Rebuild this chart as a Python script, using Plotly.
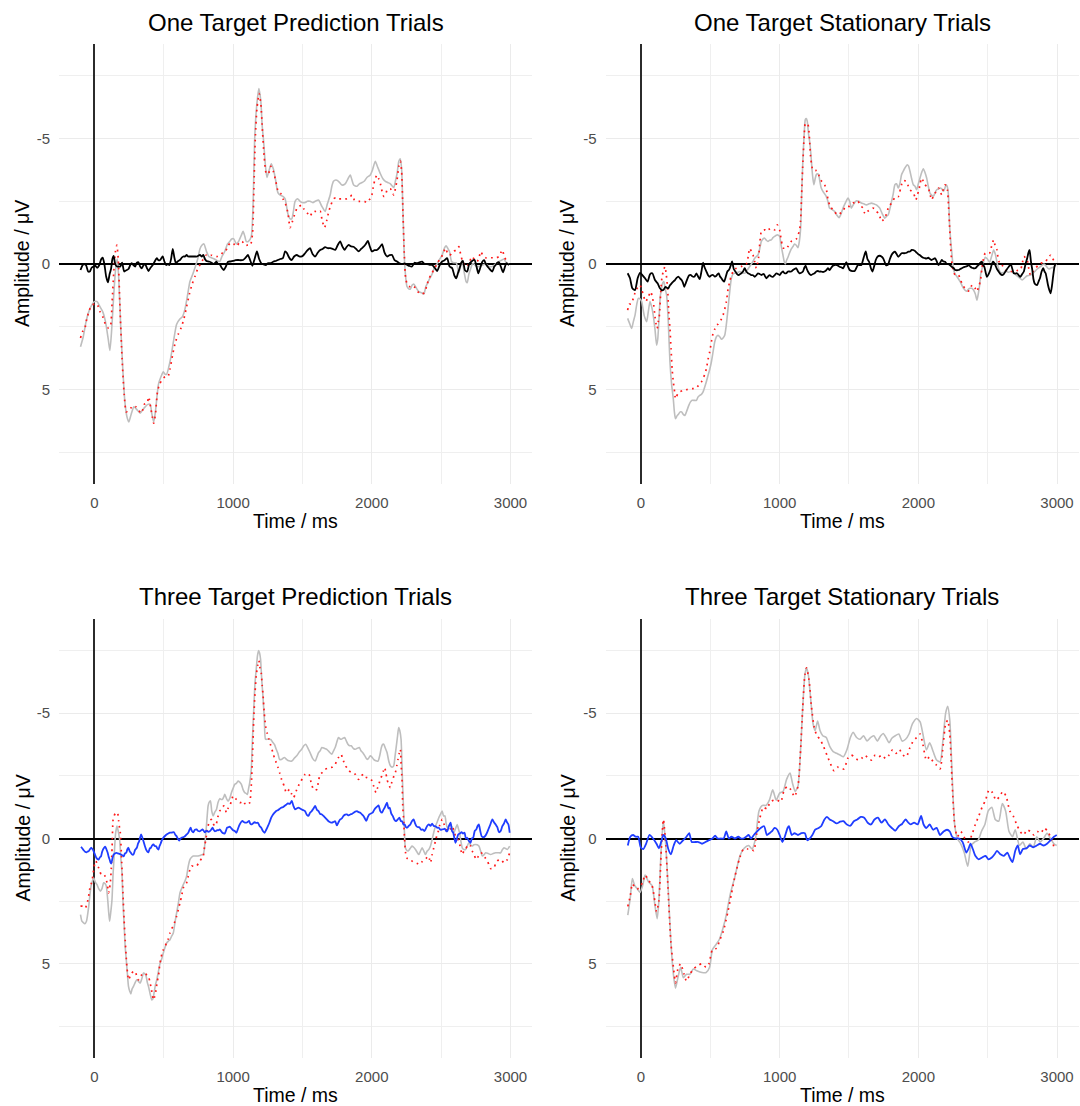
import plotly.graph_objects as go

# ------------------------------------------------------------------
# Data (time in ms, amplitude in µV)
# ------------------------------------------------------------------
one_pred_gray = [(-100,3.3),(-80,2.9),(-60,2.3),(-40,1.9),(-15,1.6),(0,1.5),(20,1.5),(40,1.7),(60,1.9),(80,2.3),(100,3.0),(112,3.45),(125,2.6),(140,1.2),(155,0.1),(165,-0.2),(175,0.5),(190,2.5),(205,4.2),(220,5.5),(235,6.1),(248,6.3),(265,6.0),(285,5.7),(305,5.8),(330,5.95),(350,5.8),(366,5.7),(385,5.6),(402,5.6),(415,6.0),(428,6.3),(440,5.9),(462,4.8),(480,4.5),(497,4.3),(510,4.4),(521,4.4),(545,3.9),(570,3.1),(593,2.4),(615,2.2),(635,2.1),(653,1.8),(670,1.3),(689,0.7),(710,0.4),(725,0.15),(745,-0.2),(761,-0.6),(775,-0.75),(790,-0.8),(808,-0.5),(825,-0.3),(844,-0.25),(865,-0.2),(880,-0.15),(904,-0.1),(920,-0.3),(940,-0.5),(960,-0.8),(976,-0.9),(990,-1.0),(1005,-1.0),(1024,-0.8),(1040,-0.9),(1048,-1.0),(1060,-1.15),(1072,-1.3),(1085,-1.1),(1095,-0.9),(1110,-0.9),(1131,-1.1),(1145,-2.5),(1155,-4.9),(1170,-6.3),(1186,-7.0),(1200,-6.5),(1210,-5.5),(1220,-4.9),(1232,-4.0),(1244,-3.45),(1258,-3.7),(1275,-4.0),(1290,-3.8),(1305,-3.4),(1323,-2.85),(1340,-2.75),(1359,-2.7),(1375,-2.6),(1395,-2.0),(1411,-1.8),(1423,-1.8),(1435,-2.1),(1447,-2.5),(1465,-2.6),(1483,-2.5),(1500,-2.45),(1519,-2.45),(1535,-2.5),(1555,-2.5),(1575,-2.45),(1592,-2.5),(1616,-2.55),(1640,-2.3),(1664,-2.1),(1680,-2.4),(1700,-2.75),(1712,-3.1),(1724,-3.3),(1740,-3.35),(1760,-3.3),(1784,-3.15),(1808,-3.2),(1833,-3.45),(1845,-3.55),(1857,-3.35),(1869,-3.15),(1893,-3.1),(1910,-3.2),(1929,-3.25),(1945,-3.3),(1965,-3.45),(1989,-3.55),(2005,-3.75),(2025,-4.1),(2040,-3.9),(2062,-3.6),(2080,-3.4),(2098,-3.3),(2115,-3.25),(2134,-3.2),(2158,-3.05),(2170,-3.3),(2182,-3.6),(2195,-4.1),(2205,-4.2),(2215,-3.8),(2225,-2.0),(2237,0.0),(2254,0.9),(2268,1.0),(2278,1.0),(2290,0.85),(2302,0.8),(2320,0.95),(2339,1.1),(2360,1.15),(2375,1.2),(2390,0.9),(2411,0.65),(2435,0.4),(2455,0.1),(2471,0.0),(2490,-0.2),(2507,-0.35),(2525,-0.65),(2536,-0.73),(2550,-0.6),(2560,-0.5),(2575,-0.1),(2590,-0.05),(2608,-0.05),(2617,0.1),(2627,0.35),(2640,0.1),(2652,-0.15),(2665,0.3),(2680,0.7),(2688,0.75),(2700,0.4),(2712,0.2),(2725,0.0),(2736,0.0),(2755,0.1),(2772,0.1),(2795,0.05),(2821,0.0),(2845,0.1),(2869,0.1),(2893,0.0),(2917,-0.1),(2935,-0.15),(2953,-0.2),(2970,-0.05),(2989,0.0)]

one_pred_red = [(-100,2.95),(-85,2.7),(-70,2.6),(-55,2.2),(-40,1.9),(-20,1.65),(0,1.6),(20,1.6),(40,1.9),(60,2.1),(80,2.4),(100,2.55),(115,2.5),(128,1.5),(140,0.3),(152,-0.5),(162,-0.75),(172,-0.2),(185,1.8),(200,3.8),(215,5.2),(230,5.9),(245,5.85),(262,5.75),(280,5.65),(300,5.7),(320,5.85),(340,5.95),(360,5.6),(380,5.55),(392,5.3),(405,5.7),(418,6.1),(428,6.35),(440,6.0),(455,5.1),(470,4.8),(490,4.6),(510,4.5),(530,4.5),(545,4.2),(565,3.6),(585,3.1),(605,2.8),(625,2.55),(645,2.2),(665,1.7),(685,1.2),(705,0.8),(725,0.5),(745,0.2),(765,0.0),(785,-0.2),(805,-0.35),(825,-0.3),(845,-0.35),(865,-0.3),(885,-0.3),(905,-0.35),(925,-0.45),(945,-0.5),(965,-0.75),(985,-0.85),(1005,-0.8),(1025,-0.7),(1045,-0.85),(1065,-0.9),(1085,-0.75),(1105,-0.75),(1125,-0.75),(1140,-1.2),(1150,-3.0),(1160,-5.0),(1172,-6.2),(1188,-6.8),(1200,-6.4),(1212,-5.3),(1224,-4.3),(1240,-3.6),(1255,-3.6),(1272,-3.9),(1290,-3.7),(1308,-3.3),(1325,-2.9),(1345,-2.8),(1360,-2.6),(1378,-2.4),(1395,-2.05),(1411,-1.45),(1428,-1.7),(1445,-2.0),(1459,-2.2),(1478,-2.3),(1495,-2.35),(1510,-2.2),(1524,-2.1),(1540,-2.0),(1555,-1.9),(1575,-2.1),(1592,-2.1),(1610,-2.05),(1628,-2.1),(1642,-1.75),(1659,-1.45),(1676,-1.75),(1690,-2.1),(1705,-2.35),(1724,-2.6),(1745,-2.65),(1760,-2.6),(1780,-2.6),(1800,-2.6),(1820,-2.6),(1840,-2.65),(1857,-2.75),(1875,-2.55),(1893,-2.5),(1911,-2.5),(1929,-2.5),(1947,-2.5),(1965,-2.45),(1980,-2.55),(1996,-2.65),(2013,-3.15),(2025,-3.4),(2037,-3.55),(2050,-3.4),(2062,-3.2),(2074,-2.9),(2086,-2.7),(2098,-2.75),(2110,-2.95),(2122,-3.0),(2134,-3.0),(2146,-2.9),(2158,-2.75),(2170,-3.0),(2182,-3.35),(2195,-3.9),(2206,-4.1),(2215,-3.7),(2225,-2.0),(2235,-0.3),(2245,0.6),(2260,0.85),(2275,0.9),(2290,0.85),(2305,0.9),(2320,1.0),(2340,1.15),(2360,1.2),(2378,1.15),(2395,0.9),(2411,0.6),(2430,0.4),(2450,0.2),(2470,0.0),(2490,-0.2),(2510,-0.35),(2531,-0.63),(2545,-0.45),(2560,-0.35),(2575,-0.4),(2592,-0.52),(2610,-0.55),(2628,-0.69),(2640,-0.4),(2652,-0.15),(2670,0.05),(2688,0.1),(2705,-0.1),(2724,-0.3),(2742,-0.15),(2760,-0.1),(2775,-0.3),(2785,-0.5),(2800,-0.35),(2821,-0.25),(2840,-0.25),(2860,-0.25),(2880,-0.25),(2900,-0.25),(2917,-0.3),(2930,-0.45),(2941,-0.56),(2955,-0.3),(2970,-0.15),(2990,-0.1)]

one_pred_diff = [(-100,0.24),(-85,0.05),(-75,0.0),(-60,0.05),(-45,0.3),(-33,0.3),(-20,0.15),(-5,0.1),(7,0.07),(20,0.15),(35,0.05),(50,-0.2),(60,-0.25),(72,0.0),(85,0.5),(98,0.73),(110,0.4),(120,0.2),(130,-0.2),(139,-0.32),(150,0.0),(163,0.1),(175,0.1),(187,0.1),(200,-0.05),(215,0.3),(230,0.25),(246,0.2),(258,0.05),(270,-0.03),(282,0.05),(294,0.1),(306,-0.05),(318,-0.07),(330,0.1),(342,0.17),(354,0.05),(366,0.0),(378,0.15),(390,0.28),(405,0.15),(421,0.04),(435,-0.1),(450,-0.23),(462,-0.15),(474,-0.16),(485,-0.25),(493,-0.3),(505,-0.1),(517,0.04),(530,0.0),(541,0.04),(553,-0.2),(565,-0.6),(577,-0.25),(588,-0.03),(600,-0.1),(617,-0.16),(630,-0.25),(641,-0.3),(653,-0.3),(665,-0.36),(677,-0.3),(689,-0.3),(700,-0.3),(712,-0.3),(725,-0.3),(740,-0.3),(761,-0.36),(775,-0.3),(785,-0.36),(797,-0.2),(808,-0.12),(820,-0.1),(832,-0.09),(845,-0.05),(856,0.0),(868,-0.03),(880,-0.09),(892,0.0),(904,0.01),(918,0.15),(933,0.24),(948,0.1),(964,-0.09),(980,-0.1),(1000,-0.12),(1018,-0.15),(1036,-0.16),(1054,-0.15),(1072,-0.16),(1090,-0.25),(1107,-0.36),(1120,-0.2),(1139,0.07),(1155,-0.2),(1172,-0.5),(1188,-0.2),(1203,-0.03),(1220,0.02),(1239,0.04),(1250,-0.03),(1263,-0.03),(1278,-0.05),(1292,-0.1),(1308,-0.12),(1323,-0.16),(1340,-0.2),(1359,-0.23),(1375,-0.5),(1387,-0.45),(1400,-0.3),(1411,-0.2),(1423,-0.16),(1440,-0.3),(1459,-0.36),(1477,-0.3),(1495,-0.3),(1507,-0.35),(1519,-0.43),(1537,-0.55),(1555,-0.63),(1573,-0.4),(1592,-0.3),(1610,-0.45),(1628,-0.56),(1645,-0.6),(1664,-0.67),(1682,-0.63),(1700,-0.63),(1718,-0.6),(1736,-0.56),(1754,-0.75),(1772,-0.9),(1788,-0.7),(1804,-0.56),(1818,-0.68),(1833,-0.76),(1851,-0.7),(1869,-0.69),(1887,-0.6),(1905,-0.5),(1923,-0.6),(1941,-0.69),(1957,-0.8),(1972,-0.92),(1986,-0.7),(2001,-0.5),(2019,-0.55),(2037,-0.56),(2055,-0.65),(2074,-0.79),(2092,-0.45),(2110,-0.3),(2128,-0.35),(2146,-0.36),(2164,-0.15),(2182,-0.1),(2200,-0.03),(2218,0.0),(2236,-0.02),(2254,0.03),(2272,0.08),(2290,0.1),(2308,-0.05),(2327,-0.03),(2345,-0.07),(2363,-0.09),(2381,0.0),(2399,0.0),(2417,0.03),(2435,0.04),(2453,0.15),(2471,0.28),(2489,0.05),(2507,-0.1),(2525,-0.15),(2543,-0.23),(2561,0.1),(2580,0.17),(2595,0.45),(2609,0.57),(2622,0.35),(2633,0.17),(2645,-0.05),(2657,-0.12),(2672,0.25),(2688,0.3),(2702,0.0),(2717,-0.09),(2730,-0.15),(2741,-0.16),(2755,0.1),(2768,0.37),(2782,0.15),(2797,-0.09),(2810,-0.15),(2822,0.0),(2845,0.17),(2869,0.3),(2883,0.1),(2893,0.04),(2905,-0.05),(2917,-0.07),(2930,0.1),(2946,0.33),(2958,0.15),(2970,-0.03),(2990,0.04)]

one_stat_gray = [(-96,2.17),(-80,2.4),(-67,2.57),(-55,2.3),(-43,2.05),(-30,1.6),(-19,1.37),(-5,1.4),(5,1.5),(24,2.07),(41,2.3),(53,1.9),(65,1.5),(77,1.7),(89,2.07),(101,2.6),(113,3.24),(121,3.0),(129,2.3),(139,1.3),(149,0.97),(157,0.75),(165,0.7),(175,1.0),(185,1.24),(197,2.3),(209,3.9),(221,4.8),(233,5.37),(241,5.9),(249,6.17),(261,6.05),(273,5.97),(283,5.9),(293,5.9),(305,6.0),(317,6.04),(331,5.85),(345,5.64),(357,5.5),(369,5.44),(385,5.44),(400,5.44),(412,5.3),(424,5.24),(436,5.2),(448,5.1),(466,4.8),(484,4.44),(496,4.2),(508,3.9),(520,3.5),(532,3.1),(544,2.9),(556,2.84),(568,2.9),(580,3.0),(592,2.95),(604,2.84),(616,2.4),(628,1.77),(640,1.1),(652,0.57),(664,0.4),(676,0.37),(694,0.35),(712,0.3),(730,0.35),(748,0.37),(760,0.3),(772,0.2),(784,0.1),(796,0.0),(808,-0.1),(820,-0.23),(832,-0.3),(844,-0.36),(856,-0.6),(868,-0.9),(880,-1.0),(892,-1.03),(904,-0.95),(916,-0.9),(928,-0.95),(940,-0.96),(952,-1.05),(964,-1.1),(976,-1.15),(988,-1.16),(1000,-1.1),(1012,-0.7),(1024,-0.36),(1033,-0.1),(1041,0.0),(1050,-0.15),(1060,-0.27),(1072,-0.45),(1084,-0.6),(1096,-0.7),(1108,-0.8),(1120,-0.75),(1132,-0.65),(1142,-0.9),(1151,-1.4),(1160,-3.0),(1168,-4.2),(1177,-5.2),(1185,-5.76),(1192,-5.8),(1199,-5.7),(1208,-5.2),(1216,-4.9),(1225,-4.4),(1233,-3.8),(1240,-3.4),(1247,-3.16),(1256,-3.4),(1264,-3.56),(1272,-3.6),(1281,-3.56),(1290,-3.3),(1300,-3.03),(1312,-2.9),(1324,-2.8),(1336,-2.7),(1348,-2.5),(1360,-2.23),(1372,-2.2),(1384,-2.15),(1396,-2.1),(1412,-1.95),(1428,-1.85),(1443,-2.0),(1457,-2.23),(1475,-2.45),(1493,-2.63),(1505,-2.5),(1517,-2.23),(1535,-2.4),(1553,-2.52),(1571,-2.5),(1589,-2.43),(1607,-2.4),(1626,-2.36),(1644,-2.4),(1662,-2.43),(1680,-2.4),(1698,-2.36),(1710,-2.3),(1722,-2.23),(1740,-2.0),(1758,-1.83),(1770,-1.9),(1783,-1.96),(1795,-2.2),(1807,-2.5),(1819,-2.8),(1831,-3.16),(1843,-3.2),(1855,-3.03),(1867,-3.2),(1879,-3.56),(1891,-3.7),(1903,-3.83),(1920,-3.96),(1930,-3.9),(1940,-3.7),(1952,-3.4),(1964,-3.16),(1976,-3.1),(1988,-2.96),(2000,-3.2),(2012,-3.43),(2024,-3.65),(2036,-3.8),(2048,-3.65),(2060,-3.43),(2072,-3.1),(2084,-2.83),(2096,-2.75),(2109,-2.7),(2121,-2.85),(2133,-2.96),(2145,-3.0),(2157,-3.03),(2169,-3.0),(2181,-2.9),(2190,-3.0),(2200,-3.16),(2208,-3.1),(2217,-2.76),(2225,-1.6),(2234,-0.9),(2244,-0.3),(2253,0.2),(2265,0.4),(2278,0.5),(2290,0.6),(2302,0.7),(2314,0.85),(2326,0.97),(2338,1.05),(2350,1.08),(2362,1.0),(2374,0.97),(2386,0.97),(2398,1.04),(2411,1.2),(2423,1.44),(2432,1.2),(2442,0.84),(2450,0.4),(2459,0.2),(2471,-0.1),(2483,-0.27),(2498,-0.2),(2514,-0.07),(2528,-0.3),(2543,-0.56),(2555,-0.4),(2567,-0.07),(2580,0.2),(2592,0.33),(2606,0.35),(2621,0.33),(2636,0.3),(2652,0.33),(2667,0.3),(2683,0.33),(2698,0.4),(2712,0.47),(2730,0.55),(2749,0.64),(2767,0.55),(2785,0.47),(2803,0.45),(2821,0.4),(2839,0.3),(2857,0.2),(2881,0.1),(2906,0.0),(2924,0.1),(2942,0.2),(2960,0.15),(2978,0.13),(2995,0.0)]

one_stat_red = [(-96,1.84),(-84,1.6),(-72,1.6),(-55,1.37),(-43,1.15),(-31,1.0),(-19,0.9),(-7,0.84),(5,1.0),(17,1.24),(34,1.5),(53,1.3),(72,1.1),(80,1.3),(89,1.5),(101,2.1),(109,2.4),(117,2.57),(125,2.3),(132,2.1),(144,1.0),(152,0.5),(161,0.3),(173,0.1),(182,0.4),(192,0.97),(200,1.9),(209,2.57),(217,3.4),(225,4.2),(233,4.7),(240,4.97),(249,5.37),(257,5.3),(265,5.17),(281,5.1),(299,5.05),(317,5.04),(335,5.0),(352,4.97),(370,4.97),(388,4.97),(406,4.9),(424,4.77),(436,4.7),(448,4.57),(460,4.4),(472,4.17),(484,3.8),(496,3.5),(508,3.1),(520,2.77),(532,2.6),(544,2.44),(556,2.4),(568,2.3),(580,2.2),(592,2.04),(604,1.8),(616,1.5),(628,1.0),(640,0.7),(652,0.45),(664,0.3),(676,0.2),(688,0.17),(706,0.12),(724,0.1),(736,0.05),(748,0.04),(760,0.0),(767,-0.1),(776,-0.4),(784,-0.63),(796,-0.5),(808,-0.36),(820,-0.1),(832,0.17),(840,0.0),(849,-0.3),(858,-0.9),(868,-1.3),(880,-1.35),(892,-1.36),(904,-1.3),(916,-1.36),(928,-1.4),(940,-1.43),(952,-1.4),(964,-1.36),(976,-1.45),(983,-1.56),(992,-1.45),(1000,-1.36),(1010,-1.0),(1019,-0.76),(1028,-0.63),(1036,-0.63),(1048,-0.6),(1060,-0.7),(1072,-0.8),(1084,-0.9),(1096,-0.93),(1108,-0.96),(1120,-1.0),(1132,-1.16),(1142,-1.3),(1151,-1.7),(1160,-3.0),(1168,-4.1),(1177,-5.1),(1185,-5.6),(1194,-5.6),(1204,-5.57),(1214,-5.1),(1223,-4.3),(1232,-3.9),(1240,-3.75),(1250,-3.75),(1259,-3.75),(1270,-3.6),(1281,-3.56),(1290,-3.4),(1300,-3.32),(1312,-3.25),(1324,-3.16),(1336,-3.0),(1348,-2.6),(1360,-2.36),(1372,-2.25),(1384,-2.16),(1396,-2.1),(1408,-2.0),(1420,-1.96),(1432,-2.0),(1445,-2.05),(1457,-2.1),(1469,-2.25),(1481,-2.3),(1493,-2.3),(1505,-2.3),(1517,-2.35),(1529,-2.43),(1541,-2.45),(1553,-2.45),(1565,-2.5),(1577,-2.4),(1589,-2.3),(1601,-2.23),(1611,-2.05),(1621,-1.99),(1635,-2.1),(1650,-2.16),(1662,-2.2),(1674,-2.23),(1686,-2.2),(1698,-2.1),(1710,-2.03),(1722,-1.9),(1734,-1.7),(1746,-1.75),(1758,-1.83),(1770,-2.0),(1783,-2.23),(1795,-2.35),(1807,-2.43),(1819,-2.55),(1831,-2.65),(1843,-2.7),(1855,-2.69),(1864,-2.85),(1872,-3.0),(1881,-3.2),(1891,-3.32),(1903,-3.32),(1915,-3.3),(1928,-3.1),(1940,-2.96),(1952,-2.9),(1964,-2.83),(1974,-2.7),(1983,-2.56),(1992,-2.75),(2002,-2.9),(2013,-3.2),(2024,-3.43),(2036,-3.3),(2048,-3.16),(2060,-3.1),(2072,-3.03),(2084,-2.8),(2096,-2.56),(2108,-2.7),(2121,-2.83),(2133,-2.9),(2145,-3.03),(2157,-2.9),(2169,-2.76),(2181,-3.0),(2193,-3.16),(2202,-3.1),(2210,-2.96),(2218,-2.3),(2225,-1.56),(2233,-0.7),(2241,-0.1),(2253,0.3),(2266,0.44),(2278,0.44),(2290,0.44),(2302,0.6),(2314,0.77),(2326,0.9),(2338,0.97),(2350,1.04),(2362,1.08),(2378,0.9),(2394,0.84),(2408,0.95),(2423,1.1),(2435,0.9),(2447,0.7),(2458,0.2),(2466,-0.1),(2475,-0.35),(2483,-0.43),(2498,-0.4),(2514,-0.43),(2528,-0.7),(2543,-0.96),(2555,-0.7),(2567,-0.56),(2580,-0.1),(2592,-0.1),(2610,0.1),(2628,0.24),(2646,0.3),(2664,0.3),(2682,0.3),(2700,0.3),(2718,0.25),(2736,0.24),(2749,0.0),(2761,-0.3),(2773,-0.25),(2785,-0.16),(2797,0.2),(2809,0.44),(2827,0.3),(2845,0.17),(2864,0.05),(2882,-0.03),(2900,-0.05),(2918,-0.1),(2930,-0.2),(2942,-0.3),(2954,-0.35),(2966,-0.23),(2983,-0.1)]

one_stat_diff = [(-96,0.37),(-79,0.57),(-62,0.97),(-43,1.04),(-24,0.57),(-7,0.35),(10,0.44),(29,0.57),(48,0.7),(65,0.41),(82,0.37),(101,0.64),(120,0.77),(137,0.97),(149,1.04),(161,1.04),(177,0.91),(187,0.95),(197,0.97),(209,0.85),(221,0.77),(233,0.7),(245,0.64),(257,0.55),(269,0.5),(281,0.57),(293,0.64),(303,0.75),(312,0.91),(324,0.75),(336,0.57),(348,0.45),(360,0.44),(372,0.5),(384,0.51),(392,0.45),(400,0.37),(412,0.5),(424,0.6),(436,0.3),(448,-0.05),(460,0.15),(472,0.3),(484,0.45),(496,0.51),(508,0.45),(520,0.44),(532,0.5),(544,0.47),(553,0.4),(561,0.37),(570,0.5),(580,0.57),(590,0.65),(600,0.7),(612,0.5),(623,0.3),(632,0.25),(640,0.17),(648,0.05),(657,-0.1),(669,0.2),(681,0.3),(693,0.4),(705,0.44),(715,0.4),(724,0.37),(736,0.3),(748,0.17),(760,0.3),(772,0.37),(784,0.4),(796,0.44),(808,0.45),(820,0.51),(832,0.45),(844,0.37),(856,0.4),(868,0.44),(880,0.4),(887,0.41),(896,0.5),(904,0.57),(916,0.5),(928,0.44),(940,0.5),(952,0.51),(964,0.45),(976,0.37),(988,0.4),(1000,0.44),(1012,0.35),(1024,0.3),(1036,0.37),(1048,0.37),(1060,0.3),(1072,0.3),(1084,0.3),(1096,0.24),(1108,0.2),(1120,0.17),(1132,0.3),(1144,0.37),(1156,0.35),(1168,0.3),(1178,0.15),(1187,0.07),(1196,0.2),(1204,0.3),(1216,0.4),(1228,0.44),(1240,0.4),(1252,0.37),(1264,0.3),(1276,0.28),(1288,0.3),(1300,0.3),(1312,0.32),(1324,0.3),(1336,0.25),(1348,0.17),(1360,0.24),(1372,0.15),(1384,0.07),(1396,0.04),(1414,0.05),(1432,0.11),(1445,0.13),(1457,0.17),(1469,0.05),(1481,-0.07),(1493,0.1),(1505,0.24),(1523,0.28),(1541,0.28),(1565,0.04),(1589,0.04),(1601,-0.16),(1611,-0.35),(1621,-0.5),(1633,-0.2),(1645,-0.09),(1657,0.15),(1669,0.3),(1681,0.1),(1693,-0.16),(1707,-0.3),(1722,-0.33),(1734,-0.3),(1746,-0.23),(1756,-0.1),(1766,0.04),(1775,0.05),(1783,0.01),(1795,-0.2),(1807,-0.36),(1819,-0.45),(1831,-0.49),(1843,-0.4),(1855,-0.29),(1867,-0.35),(1879,-0.43),(1891,-0.43),(1903,-0.43),(1916,-0.45),(1928,-0.49),(1940,-0.5),(1952,-0.56),(1964,-0.55),(1976,-0.52),(1988,-0.45),(2000,-0.39),(2012,-0.35),(2024,-0.29),(2036,-0.25),(2048,-0.23),(2060,-0.22),(2072,-0.25),(2084,-0.2),(2096,-0.16),(2109,-0.2),(2121,-0.23),(2133,-0.1),(2145,0.04),(2157,-0.05),(2169,-0.16),(2181,-0.1),(2193,-0.09),(2205,0.0),(2217,0.01),(2229,0.05),(2241,0.11),(2254,0.16),(2266,0.24),(2278,0.25),(2290,0.24),(2302,0.2),(2314,0.17),(2326,0.13),(2338,0.11),(2350,0.09),(2362,0.04),(2374,0.1),(2386,0.15),(2398,0.17),(2411,0.17),(2423,0.1),(2435,0.04),(2447,-0.05),(2459,-0.09),(2468,0.05),(2476,0.11),(2486,0.35),(2495,0.51),(2507,0.4),(2519,0.24),(2528,0.05),(2538,-0.09),(2547,-0.05),(2555,0.04),(2567,0.2),(2579,0.3),(2592,0.4),(2604,0.44),(2616,0.4),(2628,0.3),(2640,0.2),(2652,0.11),(2661,0.05),(2669,0.04),(2678,0.2),(2688,0.37),(2700,0.38),(2712,0.37),(2724,0.45),(2736,0.51),(2749,0.4),(2761,0.3),(2773,0.0),(2785,-0.23),(2794,-0.45),(2802,-0.56),(2812,-0.1),(2821,0.2),(2830,0.6),(2838,0.77),(2848,0.83),(2857,0.84),(2867,0.7),(2877,0.57),(2889,0.3),(2901,0.17),(2910,0.3),(2918,0.37),(2927,0.6),(2935,0.84),(2945,1.05),(2954,1.17),(2963,0.9),(2973,0.44),(2982,0.1),(2990,-0.03)]

three_pred_gray = [(-100,3.04),(-90,3.3),(-81,3.35),(-69,3.4),(-57,3.3),(-41,2.72),(-33,2.3),(-24,1.9),(-14,1.7),(-5,1.57),(7,1.75),(19,1.84),(31,2.0),(43,2.1),(55,2.0),(67,1.77),(77,1.8),(86,1.9),(98,2.57),(104,3.0),(110,3.3),(117,3.0),(127,2.44),(135,1.4),(144,0.57),(153,-0.2),(163,-0.5),(172,-0.3),(182,0.04),(191,0.8),(199,1.37),(207,2.6),(215,3.5),(222,4.3),(230,4.84),(238,5.4),(246,5.9),(255,6.1),(263,6.2),(272,6.0),(282,5.9),(294,5.75),(306,5.64),(318,5.7),(330,5.77),(342,5.6),(354,5.37),(364,5.4),(373,5.5),(382,5.75),(390,5.9),(402,6.2),(414,6.44),(422,6.4),(430,6.17),(440,5.85),(450,5.64),(462,5.3),(474,4.97),(486,4.8),(497,4.57),(509,4.35),(521,4.17),(533,4.1),(545,4.04),(557,3.9),(569,3.77),(581,3.35),(593,2.97),(605,2.6),(617,2.17),(629,2.0),(641,1.84),(653,1.7),(665,1.5),(677,1.1),(689,0.84),(701,0.75),(713,0.7),(725,0.7),(737,0.7),(749,0.7),(761,0.68),(773,0.65),(785,0.64),(795,0.3),(804,-0.23),(812,-0.8),(820,-1.3),(828,-1.45),(837,-1.5),(846,-1.1),(856,-0.9),(868,-1.05),(880,-1.16),(892,-1.45),(904,-1.59),(914,-1.56),(923,-1.56),(932,-1.65),(940,-1.76),(952,-1.6),(964,-1.49),(976,-1.6),(988,-1.83),(1000,-2.0),(1012,-2.16),(1024,-2.2),(1036,-2.29),(1048,-2.25),(1060,-2.16),(1072,-1.95),(1084,-1.83),(1094,-1.8),(1103,-1.76),(1112,-2.0),(1120,-2.23),(1131,-2.76),(1140,-4.0),(1148,-5.03),(1158,-6.2),(1167,-6.76),(1176,-7.3),(1184,-7.5),(1191,-7.4),(1198,-7.16),(1207,-6.3),(1215,-5.7),(1225,-4.8),(1234,-3.96),(1246,-3.96),(1258,-3.96),(1272,-3.95),(1287,-3.83),(1299,-3.75),(1311,-3.56),(1323,-3.4),(1335,-3.16),(1347,-3.15),(1359,-3.2),(1371,-3.23),(1387,-3.15),(1402,-3.1),(1423,-3.09),(1441,-3.2),(1459,-3.3),(1477,-3.45),(1495,-3.56),(1510,-3.7),(1524,-3.76),(1540,-3.6),(1555,-3.43),(1573,-3.2),(1592,-3.09),(1604,-3.25),(1616,-3.43),(1628,-3.5),(1640,-3.63),(1658,-3.6),(1676,-3.56),(1694,-3.45),(1712,-3.36),(1724,-3.5),(1736,-3.63),(1748,-3.85),(1760,-4.03),(1772,-3.97),(1780,-3.96),(1792,-4.0),(1804,-4.03),(1816,-3.9),(1828,-3.76),(1840,-3.7),(1852,-3.7),(1866,-3.6),(1881,-3.56),(1895,-3.6),(1910,-3.63),(1922,-3.5),(1934,-3.43),(1950,-3.3),(1965,-3.16),(1977,-3.2),(1989,-3.3),(2001,-3.25),(2013,-3.16),(2029,-3.1),(2045,-3.09),(2057,-3.3),(2069,-3.63),(2077,-3.75),(2086,-3.76),(2098,-3.6),(2110,-3.43),(2122,-3.1),(2134,-2.9),(2146,-2.85),(2158,-2.9),(2168,-3.3),(2177,-3.7),(2186,-4.1),(2194,-4.43),(2202,-4.3),(2211,-3.96),(2220,-2.5),(2228,-1.3),(2235,-0.3),(2242,0.37),(2252,0.47),(2262,0.5),(2276,0.4),(2290,0.3),(2302,0.35),(2315,0.44),(2327,0.55),(2339,0.64),(2351,0.5),(2363,0.37),(2375,0.5),(2387,0.64),(2399,0.5),(2411,0.44),(2423,0.3),(2435,0.04),(2447,-0.25),(2459,-0.49),(2471,-0.65),(2483,-0.83),(2495,-0.96),(2507,-1.1),(2517,-0.9),(2527,-0.9),(2536,-0.6),(2544,-0.43),(2556,-0.5),(2568,-0.56),(2580,-0.45),(2592,-0.23),(2604,-0.4),(2616,-0.56),(2624,-0.4),(2633,-0.23),(2642,0.1),(2652,0.37),(2664,0.44),(2676,0.44),(2688,0.3),(2700,0.17),(2712,0.25),(2724,0.3),(2736,0.25),(2748,0.24),(2760,0.25),(2772,0.3),(2785,0.5),(2797,0.7),(2809,0.65),(2821,0.57),(2839,0.6),(2857,0.64),(2875,0.6),(2893,0.57),(2911,0.57),(2929,0.57),(2941,0.45),(2953,0.37),(2965,0.4),(2977,0.44),(2994,0.3)]

three_pred_red = [(-100,2.7),(-82,2.7),(-65,2.77),(-53,2.6),(-41,2.3),(-33,2.0),(-24,1.84),(-14,1.6),(-5,1.24),(3,1.0),(12,0.9),(22,1.1),(31,1.17),(40,1.3),(48,1.44),(57,1.44),(67,1.44),(77,1.5),(86,1.64),(95,1.9),(103,2.17),(109,2.0),(115,1.77),(122,1.2),(128,0.3),(135,-0.76),(142,-0.9),(151,-1.0),(159,-1.03),(167,-1.03),(175,-0.7),(182,-0.4),(187,-0.23),(196,0.8),(206,2.17),(214,3.2),(222,4.04),(228,4.6),(234,5.1),(240,5.4),(246,5.64),(258,5.5),(270,5.37),(282,5.3),(294,5.3),(306,5.5),(318,5.64),(330,5.5),(342,5.44),(354,5.4),(366,5.37),(378,5.45),(390,5.5),(399,5.7),(407,5.9),(417,6.2),(426,6.44),(435,6.3),(445,6.04),(453,5.7),(462,5.5),(470,5.1),(478,4.84),(487,4.6),(497,4.44),(509,4.3),(521,4.17),(533,4.0),(545,3.77),(557,3.6),(569,3.5),(581,3.3),(593,3.1),(605,2.84),(617,2.57),(629,2.3),(641,1.97),(653,1.84),(665,1.77),(677,1.5),(689,1.24),(701,1.1),(713,1.1),(725,1.1),(737,1.1),(749,1.0),(761,0.9),(773,0.8),(785,0.7),(795,0.3),(804,0.04),(812,-0.3),(820,-0.5),(832,-0.7),(844,-0.76),(856,-0.6),(868,-0.5),(880,-0.6),(892,-0.9),(904,-1.1),(916,-1.16),(925,-1.25),(933,-1.3),(942,-1.2),(952,-1.03),(964,-1.2),(976,-1.3),(988,-1.5),(1000,-1.7),(1012,-1.64),(1024,-1.56),(1036,-1.5),(1048,-1.43),(1060,-1.45),(1072,-1.5),(1084,-1.4),(1095,-1.36),(1108,-1.35),(1120,-1.43),(1131,-2.1),(1140,-3.3),(1148,-4.63),(1158,-5.8),(1167,-6.5),(1177,-6.9),(1186,-7.1),(1194,-6.8),(1203,-6.6),(1210,-6.1),(1215,-5.8),(1225,-5.0),(1234,-4.5),(1246,-4.2),(1258,-3.96),(1272,-3.7),(1287,-3.43),(1299,-3.2),(1311,-3.03),(1323,-2.85),(1335,-2.63),(1347,-2.4),(1359,-2.23),(1371,-2.05),(1383,-1.83),(1395,-1.9),(1407,-1.96),(1420,-1.8),(1435,-1.63),(1447,-1.75),(1459,-1.96),(1471,-2.1),(1483,-2.23),(1501,-2.4),(1519,-2.56),(1533,-2.6),(1548,-2.56),(1564,-2.2),(1580,-1.96),(1592,-1.93),(1604,-1.96),(1616,-2.3),(1628,-2.56),(1646,-2.65),(1664,-2.76),(1682,-2.8),(1700,-2.83),(1718,-2.85),(1736,-2.96),(1748,-3.1),(1760,-3.23),(1770,-3.3),(1780,-3.36),(1788,-3.2),(1796,-3.1),(1808,-2.9),(1821,-2.83),(1836,-2.7),(1852,-2.63),(1866,-2.6),(1881,-2.56),(1893,-2.45),(1905,-2.36),(1923,-2.5),(1941,-2.56),(1953,-2.45),(1965,-2.43),(1980,-2.4),(1996,-2.36),(2005,-2.2),(2013,-2.1),(2022,-1.95),(2030,-1.83),(2040,-2.0),(2049,-2.1),(2062,-2.4),(2074,-2.5),(2084,-2.7),(2093,-2.83),(2102,-2.6),(2110,-2.36),(2122,-2.15),(2134,-2.03),(2142,-2.2),(2151,-2.36),(2160,-2.5),(2170,-2.63),(2180,-2.9),(2189,-3.16),(2198,-3.4),(2206,-3.56),(2212,-2.9),(2218,-2.36),(2224,-1.2),(2230,-0.76),(2238,0.2),(2247,0.7),(2256,0.8),(2266,0.84),(2278,0.9),(2290,0.9),(2302,0.95),(2315,0.97),(2329,1.0),(2343,1.04),(2359,0.95),(2375,0.84),(2390,0.8),(2406,0.7),(2415,0.8),(2423,0.97),(2435,0.64),(2447,0.37),(2459,0.1),(2471,-0.16),(2480,-0.3),(2488,-0.5),(2497,-0.6),(2507,-0.76),(2519,-0.6),(2531,-0.43),(2543,-0.3),(2556,-0.29),(2568,-0.4),(2580,-0.49),(2592,-0.3),(2604,-0.09),(2616,0.0),(2628,0.11),(2640,0.4),(2652,0.64),(2664,0.5),(2676,0.44),(2688,0.3),(2700,0.24),(2712,0.3),(2724,0.5),(2738,0.65),(2753,0.84),(2769,0.7),(2785,0.57),(2797,0.6),(2809,0.7),(2821,0.8),(2833,0.9),(2845,1.05),(2857,1.2),(2869,1.2),(2881,1.17),(2893,1.0),(2905,0.9),(2917,0.84),(2929,0.84),(2941,0.9),(2953,0.97),(2965,0.92),(2977,0.84),(2994,0.57)]

three_pred_diff = [(-96,0.33),(-86,0.4),(-77,0.47),(-67,0.53),(-57,0.55),(-49,0.52),(-41,0.51),(-32,0.43),(-24,0.37),(-14,0.42),(-5,0.51),(4,0.64),(14,0.77),(22,0.82),(31,0.84),(40,0.75),(48,0.71),(55,0.55),(62,0.44),(71,0.36),(79,0.33),(88,0.45),(96,0.57),(103,0.73),(110,0.84),(116,0.95),(122,1.0),(130,0.8),(139,0.64),(148,0.6),(158,0.57),(166,0.59),(175,0.6),(183,0.62),(191,0.64),(201,0.67),(211,0.71),(220,0.6),(230,0.57),(238,0.43),(246,0.37),(254,0.5),(263,0.57),(272,0.64),(282,0.64),(294,0.45),(306,0.37),(315,0.2),(323,0.11),(330,-0.05),(337,-0.16),(345,-0.05),(354,0.11),(364,0.3),(373,0.44),(382,0.52),(390,0.55),(399,0.4),(407,0.37),(417,0.27),(426,0.24),(435,0.3),(445,0.31),(454,0.4),(462,0.44),(470,0.3),(478,0.2),(488,0.05),(497,-0.03),(509,-0.1),(521,-0.16),(533,-0.2),(545,-0.23),(560,-0.24),(574,-0.25),(583,-0.15),(593,-0.09),(602,0.01),(612,0.08),(621,0.0),(629,-0.03),(641,-0.05),(653,-0.09),(665,-0.16),(677,-0.23),(686,-0.35),(694,-0.43),(703,-0.3),(713,-0.25),(725,-0.35),(737,-0.36),(749,-0.3),(761,-0.29),(770,-0.33),(780,-0.36),(789,-0.3),(797,-0.25),(805,-0.3),(813,-0.29),(822,-0.27),(832,-0.29),(842,-0.35),(852,-0.43),(860,-0.35),(868,-0.29),(876,-0.3),(885,-0.33),(895,-0.33),(904,-0.36),(913,-0.3),(923,-0.23),(932,-0.2),(940,-0.2),(948,-0.3),(957,-0.43),(966,-0.45),(976,-0.47),(988,-0.4),(1000,-0.33),(1012,-0.3),(1024,-0.23),(1036,-0.4),(1048,-0.56),(1057,-0.65),(1067,-0.7),(1079,-0.65),(1091,-0.63),(1103,-0.65),(1115,-0.7),(1123,-0.6),(1131,-0.56),(1143,-0.6),(1155,-0.65),(1167,-0.62),(1179,-0.63),(1191,-0.5),(1203,-0.43),(1215,-0.3),(1227,-0.23),(1239,-0.35),(1251,-0.49),(1263,-0.65),(1275,-0.83),(1287,-0.95),(1299,-1.03),(1311,-1.1),(1323,-1.13),(1335,-1.18),(1347,-1.23),(1359,-1.25),(1371,-1.3),(1383,-1.35),(1395,-1.4),(1409,-1.38),(1423,-1.5),(1435,-1.3),(1447,-1.16),(1459,-1.2),(1471,-1.23),(1483,-1.2),(1495,-1.16),(1507,-1.13),(1519,-1.09),(1531,-0.95),(1543,-0.9),(1555,-1.03),(1567,-1.09),(1580,-1.2),(1592,-1.3),(1604,-1.15),(1616,-1.09),(1628,-0.98),(1640,-0.96),(1652,-0.9),(1664,-0.83),(1676,-0.76),(1688,-0.69),(1700,-0.65),(1712,-0.63),(1724,-0.66),(1736,-0.69),(1748,-0.52),(1760,-0.65),(1772,-0.76),(1784,-0.8),(1796,-0.9),(1808,-0.95),(1821,-0.96),(1833,-0.92),(1845,-0.96),(1857,-0.98),(1869,-1.03),(1881,-1.07),(1893,-1.09),(1905,-1.05),(1917,-1.03),(1929,-0.96),(1941,-0.89),(1950,-0.8),(1960,-0.7),(1971,-0.85),(1982,-0.96),(1994,-1.0),(2006,-1.03),(2018,-1.15),(2030,-1.23),(2040,-1.28),(2049,-1.32),(2061,-1.1),(2074,-1.03),(2084,-1.15),(2093,-1.23),(2102,-1.35),(2110,-1.43),(2120,-1.2),(2129,-1.23),(2140,-1.0),(2151,-0.9),(2163,-0.75),(2175,-0.69),(2187,-0.76),(2199,-0.83),(2209,-0.7),(2218,-0.69),(2228,-0.56),(2237,-0.56),(2246,-0.45),(2254,-0.43),(2266,-0.5),(2278,-0.56),(2290,-0.7),(2302,-0.76),(2312,-0.6),(2322,-0.49),(2333,-0.45),(2343,-0.45),(2355,-0.35),(2368,-0.36),(2378,-0.3),(2387,-0.36),(2399,-0.5),(2411,-0.56),(2423,-0.5),(2435,-0.59),(2447,-0.5),(2459,-0.49),(2471,-0.43),(2483,-0.43),(2495,-0.35),(2507,-0.36),(2517,-0.37),(2527,-0.39),(2536,-0.3),(2544,-0.29),(2556,-0.5),(2568,-0.63),(2578,-0.3),(2587,-0.23),(2596,0.0),(2604,0.17),(2614,0.0),(2623,-0.16),(2635,-0.2),(2647,-0.25),(2658,-0.2),(2669,-0.23),(2678,0.0),(2688,-0.03),(2700,0.1),(2712,0.17),(2721,0.0),(2731,-0.03),(2742,-0.3),(2753,-0.36),(2763,-0.5),(2772,-0.56),(2782,-0.3),(2792,-0.09),(2804,-0.05),(2816,-0.09),(2828,-0.2),(2840,-0.36),(2854,-0.55),(2869,-0.76),(2881,-0.65),(2893,-0.56),(2905,-0.45),(2917,-0.25),(2929,-0.3),(2941,-0.49),(2953,-0.6),(2965,-0.76),(2975,-0.65),(2985,-0.56),(2994,-0.23)]

three_stat_gray = [(-95,3.06),(-77,2.36),(-62,1.6),(-45,1.88),(-27,2.01),(-7,2.15),(12,1.88),(30,1.46),(55,1.74),(80,1.88),(100,2.64),(117,3.2),(129,2.5),(147,0.28),(162,-0.7),(179,0.28),(197,2.08),(216,4.17),(234,5.42),(249,5.97),(266,5.56),(286,5.14),(306,5.56),(328,5.42),(353,5.42),(378,5.21),(403,5.28),(440,5.35),(470,5.35),(495,5.14),(515,4.44),(540,4.24),(565,4.03),(590,3.61),(615,3.06),(644,2.22),(677,1.53),(714,0.69),(744,0.39),(776,0.28),(801,0.42),(826,0.0),(851,-1.1),(876,-1.32),(901,-1.32),(926,-1.53),(950,-1.94),(975,-1.53),(1000,-1.81),(1025,-1.88),(1050,-2.36),(1075,-2.61),(1092,-2.22),(1112,-1.88),(1132,-2.08),(1149,-3.33),(1167,-5.28),(1182,-6.53),(1194,-6.81),(1207,-6.53),(1224,-5.56),(1241,-4.58),(1256,-4.31),(1274,-4.69),(1291,-4.31),(1311,-4.1),(1336,-4.03),(1361,-3.68),(1386,-3.47),(1411,-3.4),(1436,-3.33),(1460,-3.26),(1485,-3.54),(1510,-4.03),(1530,-4.24),(1555,-4.03),(1580,-3.96),(1605,-4.1),(1630,-3.89),(1655,-4.03),(1679,-4.1),(1704,-3.89),(1729,-4.1),(1747,-4.19),(1767,-4.03),(1789,-3.82),(1809,-4.0),(1834,-4.1),(1859,-4.17),(1883,-3.89),(1908,-3.96),(1933,-4.17),(1958,-4.58),(1988,-4.79),(2013,-4.65),(2033,-4.17),(2058,-3.54),(2082,-3.82),(2107,-3.47),(2132,-3.13),(2157,-3.06),(2177,-3.89),(2197,-5.0),(2212,-5.28),(2227,-4.72),(2244,-2.5),(2262,-0.56),(2281,0.0),(2306,0.21),(2331,0.56),(2356,1.11),(2381,0.28),(2406,0.14),(2431,0.07),(2455,-0.28),(2480,-0.56),(2505,-1.11),(2530,-1.25),(2555,-0.76),(2580,-0.69),(2605,-1.39),(2629,-1.11),(2654,-0.28),(2679,-0.07),(2699,-0.35),(2729,0.28),(2754,0.14),(2779,0.42),(2804,0.21),(2829,0.35),(2854,-0.07),(2878,0.14),(2903,0.0),(2928,-0.21),(2953,0.0),(2978,0.21),(2998,0.28)]

three_stat_red = [(-95,2.71),(-77,2.29),(-62,1.81),(-45,1.94),(-27,2.01),(-7,1.94),(12,1.74),(30,1.46),(55,1.67),(80,1.88),(100,2.5),(112,2.92),(129,2.5),(147,0.42),(162,-0.76),(179,0.28),(197,2.22),(216,4.17),(234,5.14),(249,5.76),(266,5.21),(286,5.0),(311,5.42),(328,5.69),(353,5.42),(378,5.21),(410,5.07),(440,5.0),(470,5.14),(490,5.0),(515,4.44),(545,4.38),(570,4.03),(595,3.68),(627,2.92),(652,2.22),(677,1.53),(709,0.83),(739,0.42),(769,0.42),(794,0.42),(814,0.49),(833,-0.14),(858,-0.83),(883,-1.25),(908,-1.18),(933,-1.46),(958,-1.53),(983,-1.53),(1008,-1.46),(1033,-1.94),(1057,-2.08),(1082,-1.94),(1107,-1.67),(1132,-2.08),(1149,-3.33),(1167,-5.28),(1182,-6.53),(1194,-6.81),(1212,-6.32),(1229,-5.28),(1249,-4.44),(1269,-4.1),(1291,-3.96),(1316,-3.68),(1341,-3.33),(1366,-2.99),(1391,-2.71),(1416,-2.85),(1441,-2.78),(1466,-2.78),(1490,-3.19),(1515,-3.33),(1540,-3.26),(1565,-3.13),(1590,-3.19),(1615,-3.33),(1640,-3.19),(1664,-3.13),(1689,-3.33),(1714,-3.26),(1739,-3.33),(1764,-3.19),(1789,-3.33),(1814,-3.54),(1839,-3.4),(1864,-3.54),(1889,-3.33),(1913,-3.26),(1938,-3.61),(1963,-3.89),(1988,-4.03),(2013,-4.17),(2033,-3.75),(2058,-3.13),(2082,-3.26),(2107,-3.06),(2132,-2.92),(2157,-2.78),(2177,-3.61),(2197,-4.58),(2212,-4.72),(2227,-4.17),(2244,-2.22),(2262,-0.56),(2281,-0.07),(2306,-0.28),(2336,0.0),(2361,0.14),(2386,-0.14),(2411,-0.56),(2436,-0.9),(2460,-1.25),(2485,-1.53),(2510,-1.94),(2535,-1.83),(2560,-1.53),(2585,-1.67),(2610,-1.88),(2634,-1.67),(2659,-1.11),(2684,-0.9),(2709,-0.56),(2734,-0.28),(2759,-0.14),(2784,-0.35),(2808,-0.28),(2833,-0.14),(2858,-0.28),(2883,-0.21),(2908,-0.42),(2933,-0.28),(2958,0.0),(2983,0.42)]

three_stat_diff = [(-95,0.28),(-77,-0.07),(-57,-0.14),(-37,-0.07),(-20,-0.07),(-2,0.35),(17,0.42),(37,0.21),(62,-0.14),(87,0.0),(112,0.21),(129,0.39),(147,0.11),(162,-0.14),(179,0.0),(197,0.42),(216,0.63),(236,0.28),(254,0.07),(279,0.21),(304,0.07),(328,-0.07),(348,-0.21),(366,0.14),(391,0.14),(415,0.14),(440,0.21),(465,0.14),(490,0.07),(515,0.0),(535,-0.11),(552,0.0),(577,0.0),(597,0.0),(615,-0.28),(634,0.0),(652,-0.07),(677,0.0),(702,-0.07),(722,0.0),(739,0.0),(759,-0.07),(776,-0.14),(794,0.0),(814,-0.14),(838,-0.28),(863,-0.42),(888,-0.49),(908,-0.14),(926,-0.21),(943,-0.28),(963,-0.42),(983,-0.35),(1000,-0.14),(1020,0.14),(1037,-0.07),(1057,-0.42),(1067,-0.49),(1087,-0.14),(1107,-0.21),(1132,-0.14),(1157,-0.21),(1182,-0.21),(1199,0.07),(1217,0.0),(1236,-0.14),(1256,-0.35),(1281,-0.42),(1299,-0.49),(1323,-0.76),(1341,-0.86),(1361,-0.76),(1386,-0.69),(1411,-0.6),(1436,-0.67),(1460,-0.69),(1485,-0.56),(1510,-0.51),(1535,-0.69),(1560,-0.76),(1585,-0.86),(1610,-0.83),(1635,-0.63),(1659,-0.56),(1684,-0.76),(1709,-0.83),(1734,-0.63),(1759,-0.76),(1784,-0.56),(1809,-0.42),(1834,-0.31),(1859,-0.49),(1883,-0.58),(1908,-0.76),(1928,-0.63),(1945,-0.56),(1970,-0.63),(1995,-0.56),(2020,-0.9),(2038,-0.56),(2058,-0.42),(2082,-0.56),(2107,-0.35),(2132,-0.42),(2157,-0.14),(2182,-0.28),(2207,-0.35),(2227,-0.28),(2244,-0.07),(2269,0.0),(2294,0.0),(2319,0.14),(2346,0.56),(2361,0.42),(2376,0.21),(2393,0.42),(2411,0.69),(2436,0.83),(2460,0.76),(2485,0.69),(2505,0.83),(2530,0.76),(2550,0.63),(2567,0.49),(2592,0.63),(2617,0.69),(2642,0.56),(2659,0.76),(2679,0.94),(2699,0.49),(2717,0.28),(2734,0.63),(2754,0.42),(2779,0.39),(2804,0.28),(2829,0.35),(2854,0.28),(2878,0.21),(2903,0.28),(2928,0.21),(2953,0.07),(2978,-0.07),(2998,-0.14)]

panel_titles = ["One Target Prediction Trials", "One Target Stationary Trials",
                "Three Target Prediction Trials", "Three Target Stationary Trials"]
x_tick_values = [0, 1000, 2000, 3000]
x_tick_labels = ["0", "1000", "2000", "3000"]
x_minor_values = [500, 1500, 2500]
y_tick_values = [-5, 0, 5]
y_tick_labels = ["-5", "0", "5"]
y_minor_values = [-7.5, -2.5, 2.5, 7.5]
x_title = "Time / ms"
y_title = "Amplitude / μV"

# ------------------------------------------------------------------
# Layout geometry (pixels)
# ------------------------------------------------------------------
W, H = 1080, 1106
FONT = "Liberation Sans, Arial, Helvetica, sans-serif"
col_px = [(59.0, 532.0), (605.6, 1078.5)]
row_px = [(44.4, 483.6), (619.0, 1058.0)]
x_range = [-255, 3155]
y_range = [8.76, -8.76]

GRAY = "#BEBEBE"
RED = "#FF1A1A"
BLACK = "#000000"
BLUE = "#1F3DFF"

panels = [
    (one_pred_gray, one_pred_red, one_pred_diff, BLACK),
    (one_stat_gray, one_stat_red, one_stat_diff, BLACK),
    (three_pred_gray, three_pred_red, three_pred_diff, BLUE),
    (three_stat_gray, three_stat_red, three_stat_diff, BLUE),
]


def px_x(p):
    return p / W


def px_y(p):
    return 1 - p / H


fig = go.Figure()
annotations = []

for i, (gray, red, diff, dcol) in enumerate(panels):
    r, c = divmod(i, 2)
    n = "" if i == 0 else str(i + 1)
    xa, ya = "x" + n, "y" + n
    (x0p, x1p), (y0p, y1p) = col_px[c], row_px[r]

    for series, style in (
        (gray, dict(color=GRAY, width=1.6)),
        (red, dict(color=RED, width=1.7, dash="1.7px,4.3px")),
        (diff, dict(color=dcol, width=1.8)),
    ):
        t = [p[0] for p in series]
        v = [p[1] for p in series]
        fig.add_trace(go.Scatter(x=t, y=v, mode="lines", xaxis=xa, yaxis=ya,
                                 line=dict(shape="spline", smoothing=0.6, **style),
                                 showlegend=False, hoverinfo="skip"))

    axis_common = dict(showline=False, showgrid=True,
                       gridcolor="#EBEBEB", gridwidth=1.3,
                       ticks="outside", ticklen=5, tickcolor="rgba(0,0,0,0)",
                       tickfont=dict(family=FONT, size=15, color="#4D4D4D"),
                       tickmode="array")
    # zero reference lines: vertical at t = 0, horizontal at 0 µV
    fig.layout["xaxis" + n] = dict(
        domain=[px_x(x0p), px_x(x1p)], anchor=ya, range=x_range,
        tickvals=x_tick_values, ticktext=x_tick_labels,
        zeroline=True, zerolinecolor="#2B2B2B", zerolinewidth=2,
        minor=dict(tickmode="array", tickvals=x_minor_values, showgrid=True,
                   gridcolor="#EFEFEF", gridwidth=0.8, ticks=""),
        **axis_common)
    fig.layout["yaxis" + n] = dict(
        domain=[px_y(y1p), px_y(y0p)], anchor=xa, range=y_range,
        tickvals=y_tick_values, ticktext=y_tick_labels,
        zeroline=True, zerolinecolor=BLACK, zerolinewidth=1.6,
        minor=dict(tickmode="array", tickvals=y_minor_values, showgrid=True,
                   gridcolor="#EFEFEF", gridwidth=0.8, ticks=""),
        **axis_common)

    cx = (x0p + x1p) / 2
    cy = (y0p + y1p) / 2
    title_y = 22 if r == 0 else 596
    xt_y = 521 if r == 0 else 1095
    yt_x = 22 if c == 0 else 567
    annotations.append(dict(text=panel_titles[i], x=px_x(cx), y=px_y(title_y),
                            xref="paper", yref="paper", showarrow=False,
                            xanchor="center", yanchor="middle",
                            font=dict(family=FONT, size=24, color="#000000")))
    annotations.append(dict(text=x_title, x=px_x(cx), y=px_y(xt_y),
                            xref="paper", yref="paper", showarrow=False,
                            xanchor="center", yanchor="middle",
                            font=dict(family=FONT, size=19.5, color="#000000")))
    annotations.append(dict(text=y_title, x=px_x(yt_x), y=px_y(cy),
                            xref="paper", yref="paper", showarrow=False,
                            textangle=-90, xanchor="center", yanchor="middle",
                            font=dict(family=FONT, size=19.5, color="#000000")))

fig.update_layout(width=W, height=H, margin=dict(l=0, r=0, t=0, b=0),
                  paper_bgcolor="white", plot_bgcolor="white",
                  annotations=annotations,
                  font=dict(family=FONT))

fig.write_html("out.html")
